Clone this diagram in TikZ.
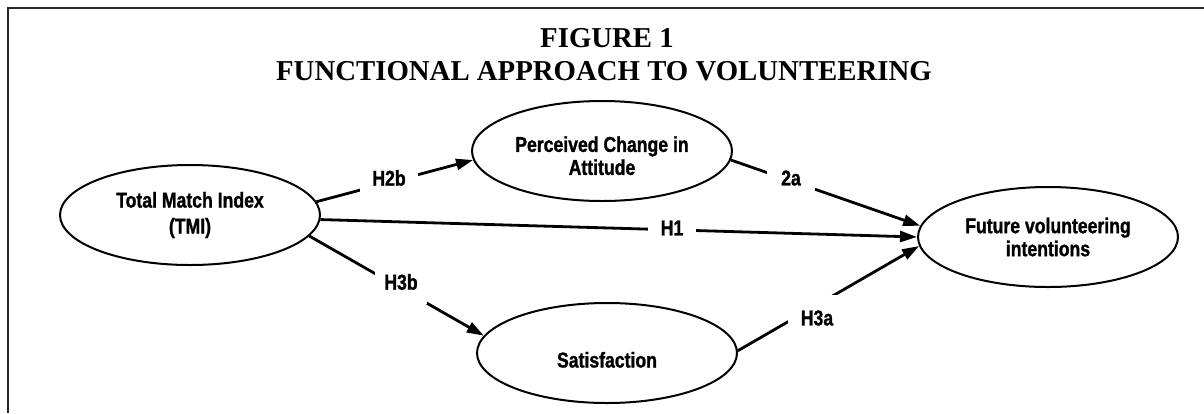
\documentclass[tikz,border=0pt]{standalone}
\usepackage{fontspec}
\setmainfont{Liberation Serif}
\newfontfamily\arnb[FakeStretch=0.82, FakeBold=1.2, UprightFont={* Bold}, BoldFont={* Bold}]{Liberation Sans}
\usetikzlibrary{arrows.meta,shapes.geometric}
\tikzset{
  ell/.style={ellipse, draw, line width=2pt, minimum width=260pt, minimum height=100pt,
    inner sep=0pt, align=center, font=\arnb\fontsize{21.5}{23}\selectfont},
  conn/.style={line width=2.8pt, -{Triangle[length=17pt,width=11pt]}},
  lbl/.style={fill=white, inner sep=0pt, minimum height=44pt,
    font=\arnb\fontsize{21.5}{23}\selectfont},
  ttl/.style={anchor=base, font=\bfseries\fontsize{28.8}{33}\selectfont}
}
\begin{document}
\begin{tikzpicture}[x=1pt,y=-1pt]
\useasboundingbox (0,0) rectangle (1204,413);
% frame (right and bottom sides fall outside the picture)
\draw[line width=2.5pt, black!85] (8,413) -- (8,8) -- (1204,8);

% title
\node[ttl] (t1) at (607,47) {FIGURE 1};
\node[ttl] (t2) at (604,80) {FUNCTIONAL APPROACH TO VOLUNTEERING};

% constructs
\node[ell] (tmi) at (190,215) {Total Match Index\\[3pt](TMI)};
\node[ell, text height=48pt] (pca) at (602,151) {Perceived Change in\\Attitude};
\node[ell, text height=29pt, text depth=0pt] (sat) at (607,353) {Satisfaction};
\node[ell] (fvi) at (1048,237) {Future volunteering\\intentions};

% connectors
\draw[conn] (tmi.6.4) -- (pca.184.8);
\draw[conn] (pca.-4) -- (fvi.175.2);
\draw[conn] (tmi.-2.7) -- (fvi.180);
\draw[conn] (tmi.-10.6) -- (sat.172.4);
\draw[conn] (sat.1.7) -- (fvi.184.4);

% labels (white boxes break the lines)
\node[lbl, minimum width=58pt] (lh2b) at (389,178) {H2b};
\node[lbl, minimum width=48pt] (l2a) at (791,178) {2a};
\node[lbl, minimum width=48pt] (lh1) at (672,228) {H1};
\node[lbl, minimum width=52pt] (lh3b) at (401,282) {H3b};
\node[lbl, minimum width=58pt, minimum height=46pt] (lh3a) at (817,318) {H3a};
\end{tikzpicture}
\end{document}
